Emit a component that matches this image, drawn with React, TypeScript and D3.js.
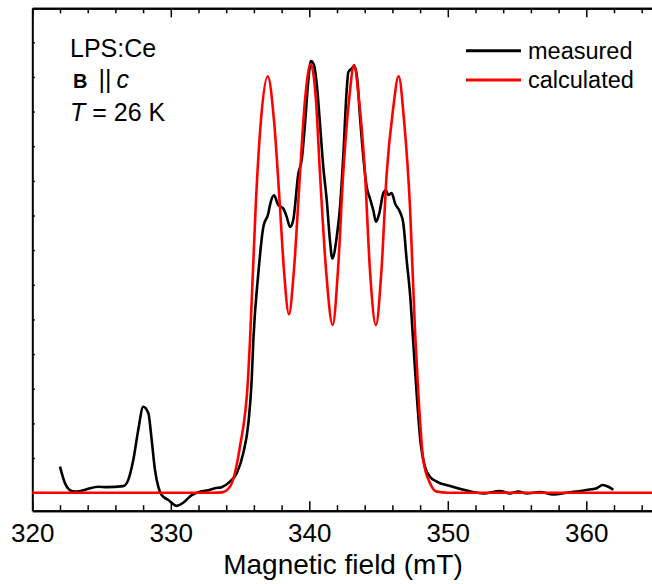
import React, { useEffect, useRef } from "react";
import * as d3 from "d3";

// field positions (mT) and signal (arb. units)
const measuredField = [
  322.0, 322.36, 322.84, 323.21, 323.93, 324.77, 325.37, 326.57, 326.93, 327.29,
  327.65, 328.01, 328.38, 328.62, 328.86, 329.1, 329.34, 329.82, 330.43, 330.9,
  331.51, 332.11, 332.59, 333.19, 333.67, 334.27, 334.76, 335.23, 335.6, 335.84,
  335.96, 336.32, 336.68, 337.04, 337.16, 337.45, 337.76, 338.12, 338.37, 338.61,
  338.84, 339.21, 339.45, 339.69, 339.93, 340.12, 340.34, 340.58, 340.77, 341.01,
  341.26, 341.49, 341.66, 341.98, 342.22, 342.45, 342.7, 342.82, 343.06, 343.25,
  343.47, 343.66, 343.9, 344.14, 344.38, 344.62, 344.82, 345.05, 345.34, 345.52,
  345.7, 345.95, 346.19, 346.55, 346.79, 347.03, 347.27, 347.51, 347.75, 348.04,
  348.35, 348.71, 349.2, 350.16, 351.36, 352.56, 353.77, 354.49, 355.09, 355.7,
  356.66, 357.62, 358.58, 360.03, 360.75, 361.18, 361.59, 361.95
];
const measuredSignal = [
  0.75, 0.27, 0.05, 0.03, 0.1, 0.17, 0.16, 0.19, 0.37, 0.94,
  1.81, 2.48, 2.29, 1.52, 0.65, 0.17, -0.07, -0.21, -0.38, -0.29,
  -0.07, 0.03, 0.06, 0.13, 0.16, 0.32, 0.56, 1.14, 2.0, 3.25,
  4.4, 6.33, 7.67, 8.06, 8.3, 8.58, 8.3, 8.2, 7.96, 7.67,
  7.87, 9.21, 9.6, 10.65, 11.9, 12.46, 12.34, 11.62, 10.65, 9.4,
  8.44, 7.29, 6.76, 7.38, 8.25, 9.69, 11.62, 12.14, 12.24, 12.31,
  11.9, 10.85, 9.69, 8.83, 8.49, 8.15, 7.82, 8.06, 8.64, 8.73,
  8.59, 8.65, 8.35, 8.1, 7.77, 6.71, 5.75, 4.31, 2.87, 1.42,
  0.75, 0.46, 0.32, 0.19, 0.06, -0.02, 0.05, -0.02, 0.03, -0.02,
  0.02, -0.05, 0.0, 0.08, 0.13, 0.22, 0.17, 0.08
];

const calcField = [
  320, 333.0, 333.69, 334.27, 334.99, 335.57, 335.72, 336.15, 336.51, 337.0,
  337.45, 337.88, 338.17, 338.53, 338.89, 339.33, 339.69, 340.1, 340.48, 340.77,
  341.21, 341.69, 342.07, 342.45, 342.87, 343.23, 343.59, 344.02, 344.38, 344.81,
  345.21, 345.59, 346.04, 346.45, 346.84, 347.27, 347.63, 347.87, 348.23, 348.71,
  349.2, 350.0, 365
];
const calcSignal = [
  0, 0, 0.01, 0.17, 1.33, 3.25, 4.4, 8.44, 10.75, 12.02,
  10.75, 8.25, 6.42, 5.15, 6.42, 9.22, 11.33, 12.37, 11.33, 9.22,
  6.42, 4.84, 6.42, 9.22, 11.33, 12.34, 11.33, 9.22, 6.42, 4.84,
  6.42, 9.22, 11.04, 12.02, 10.75, 8.25, 4.69, 2.88, 0.94, 0.28,
  0.03, 0, 0
];

const majorTicks = [320, 330, 340, 350, 360];
const minorTicks = [322, 324, 326, 328, 332, 334, 336, 338, 342, 344, 346, 348, 352, 354, 356, 358, 362, 364];
const yTicks = [1, 2, 3, 4, 5, 6, 7, 8, 9, 10, 11, 12, 13];

const legendNames = ["measured", "calculated"];
const legendColors = ["#000000", "#ff0000"];

const W = 652;
const H = 584;
const FONT = "'Liberation Sans', Arial, Helvetica, sans-serif";

export default function App() {
  const ref = useRef<SVGSVGElement | null>(null);

  useEffect(() => {
    const svg = d3.select(ref.current);
    svg.selectAll("*").remove();

    const left = 32.3, top = 8.3, bottom = 510.7;
    const x = d3.scaleLinear().domain([320, 365]).range([left, left + 45 * 13.85]);
    const y = d3.scaleLinear().domain([-0.52, 13.98]).range([bottom, top]);

    // axes, all ticks pointing inwards
    const styleAxis = (g: any) => {
      g.select(".domain").attr("stroke-width", 2);
      g.selectAll(".tick line").attr("stroke-width", 1.5);
    };

    svg.append("g")
      .attr("transform", `translate(0,${bottom})`)
      .call(d3.axisBottom(x).tickValues(minorTicks).tickSizeInner(-5.5).tickSizeOuter(0).tickFormat(() => ""))
      .call(styleAxis);
    svg.append("g")
      .attr("transform", `translate(0,${bottom})`)
      .call(d3.axisBottom(x).tickValues(majorTicks).tickSizeInner(-9.5).tickSizeOuter(0).tickPadding(13).tickFormat(d3.format("d")))
      .call(styleAxis)
      .call((g: any) => g.selectAll("text")
        .attr("font-family", FONT)
        .attr("font-size", 26)
        .attr("fill", "#000"));

    svg.append("g")
      .attr("transform", `translate(0,${top})`)
      .call(d3.axisTop(x).tickValues(minorTicks).tickSizeInner(-5).tickSizeOuter(0).tickFormat(() => ""))
      .call(styleAxis);
    svg.append("g")
      .attr("transform", `translate(0,${top})`)
      .call(d3.axisTop(x).tickValues(majorTicks).tickSizeInner(-9).tickSizeOuter(0).tickFormat(() => ""))
      .call(styleAxis);

    svg.append("g")
      .attr("transform", `translate(${left},0)`)
      .call(d3.axisLeft(y).tickValues(yTicks).tickSizeInner(-2.5).tickSizeOuter(0).tickFormat(() => ""))
      .call(styleAxis);

    svg.append("text")
      .attr("x", 343)
      .attr("y", 574)
      .attr("text-anchor", "middle")
      .attr("font-family", FONT)
      .attr("font-size", 28)
      .text("Magnetic field (mT)");

    // spectra
    const line = d3.line<[number, number]>()
      .x(d => x(d[0]))
      .y(d => y(d[1]))
      .curve(d3.curveMonotoneX);

    const measured = measuredField.map((f, i) => [f, measuredSignal[i]] as [number, number]);
    const calculated = calcField.map((f, i) => [f, calcSignal[i]] as [number, number]);

    svg.append("path")
      .datum(measured)
      .attr("fill", "none")
      .attr("stroke", legendColors[0])
      .attr("stroke-width", 2.6)
      .attr("stroke-linejoin", "round")
      .attr("d", line);

    svg.append("path")
      .datum(calculated)
      .attr("fill", "none")
      .attr("stroke", legendColors[1])
      .attr("stroke-width", 2.6)
      .attr("stroke-linejoin", "round")
      .attr("d", line);

    // legend
    const legend = svg.append("g")
      .selectAll("g")
      .data(legendNames)
      .join("g")
      .attr("transform", (d, i) => `translate(466,${50.7 + i * 29.3})`);
    legend.append("line")
      .attr("x1", 0).attr("x2", 55)
      .attr("stroke", (d, i) => legendColors[i])
      .attr("stroke-width", 3);
    legend.append("text")
      .attr("x", 62)
      .attr("y", 8)
      .attr("font-family", FONT)
      .attr("font-size", 23.5)
      .text(d => d);

    // sample annotation
    const note = svg.append("g")
      .attr("font-family", FONT)
      .attr("font-size", 25);
    note.append("text").attr("x", 70).attr("y", 57).text("LPS:Ce");
    const b = note.append("text").attr("x", 73).attr("y", 88);
    b.append("tspan").attr("font-weight", "bold").attr("font-size", 20).text("B");
    b.append("tspan").attr("dx", 11).text("||");
    b.append("tspan").attr("dx", 5).attr("font-style", "italic").text("c");
    const t = note.append("text").attr("x", 70).attr("y", 121);
    t.append("tspan").attr("font-style", "italic").text("T");
    t.append("tspan").text(" = 26 K");
  }, []);

  return (
    <svg
      ref={ref}
      width={W}
      height={H}
      style={{ position: "absolute", left: 0, top: 0, background: "#fff" }}
    />
  );
}
